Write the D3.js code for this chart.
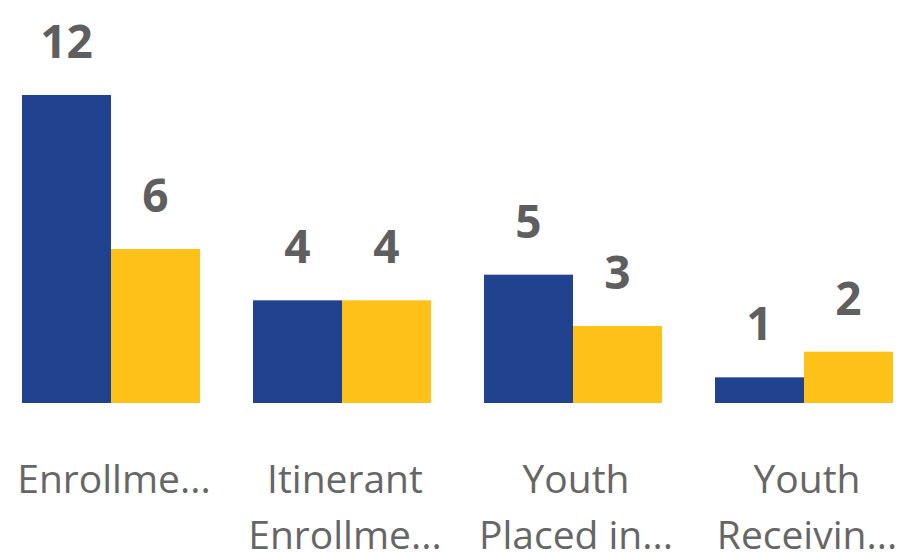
<!DOCTYPE html>
<html>
<head>
<meta charset="utf-8">
<script src="https://cdn.jsdelivr.net/npm/d3@7"></script>
<style>
  body { margin: 0; background: #fff; }
  svg { display: block; }
</style>
</head>
<body>
<div id="chart"></div>
<script>
'use strict';

// categorias (rótulos já truncados como no original)
var categories = ['Enrollment', 'Itinerant Enrollment', 'Youth Placed in', 'Youth Receiving'];
var categoryLines = [['Enrollme...'], ['Itinerant', 'Enrollme...'], ['Youth', 'Placed in...'], ['Youth', 'Receivin...']];

// séries
var seriesNames = ['Series A', 'Series B'];
var seriesA = [12, 4, 5, 1];
var seriesB = [6, 4, 3, 2];

var chart = {};
chart.w = 901;
chart.h = 552;
chart.baseline = 403;
chart.top = 95;
chart.colors = ['#21428f', '#fec118'];

var data = categories.map(function(c, i) {
    return {cat: c, values: [seriesA[i], seriesB[i]]};
});

var svg = d3.select('#chart').append('svg')
    .attr('width', chart.w)
    .attr('height', chart.h);

var x0 = d3.scaleBand()
    .domain(categories)
    .range([22, 893])
    .paddingInner(53 / 231)
    .paddingOuter(0);

var x1 = d3.scaleBand()
    .domain(seriesNames)
    .range([0, x0.bandwidth()])
    .padding(0);

var y = d3.scaleLinear()
    .domain([0, d3.max(seriesA.concat(seriesB))])
    .range([chart.baseline, chart.top]);

var groups = svg.selectAll('g.grp')
    .data(data)
    .enter()
    .append('g')
    .attr('class', 'grp')
    .attr('transform', function(d) { return 'translate(' + x0(d.cat) + ',0)'; });

groups.selectAll('rect')
    .data(function(d) { return d.values.map(function(v, j) { return {s: seriesNames[j], v: v, j: j}; }); })
    .enter()
    .append('rect')
    .attr('x', function(d) { return x1(d.s); })
    .attr('y', function(d) { return y(d.v); })
    .attr('width', x1.bandwidth())
    .attr('height', function(d) { return y(0) - y(d.v); })
    .attr('fill', function(d) { return chart.colors[d.j]; });

// rótulos de valor
groups.selectAll('text.val')
    .data(function(d) { return d.values.map(function(v, j) { return {s: seriesNames[j], v: v}; }); })
    .enter()
    .append('text')
    .attr('class', 'val')
    .attr('x', function(d) { return x1(d.s) + x1.bandwidth() / 2; })
    .attr('y', function(d) { return y(d.v) - 37; })
    .attr('text-anchor', 'middle')
    .style('font-family', '"Open Sans", "Noto Sans", sans-serif')
    .style('font-weight', 'bold')
    .style('font-size', '46px')
    .style('fill', '#5f5f5f')
    .text(function(d) { return d.v; });

// rótulos das categorias
var labels = svg.selectAll('text.cat')
    .data(data)
    .enter()
    .append('text')
    .attr('class', 'cat')
    .attr('x', function(d) { return x0(d.cat) + x0.bandwidth() / 2 + 3; })
    .attr('y', 493)
    .attr('text-anchor', 'middle')
    .style('font-family', '"Open Sans", "Noto Sans", sans-serif')
    .style('font-size', '39px')
    .style('fill', '#666666');

labels.selectAll('tspan')
    .data(function(d, i) { return categoryLines[i]; })
    .enter()
    .append('tspan')
    .attr('x', function() { return d3.select(this.parentNode).attr('x'); })
    .attr('dy', function(d, i) { return i === 0 ? 0 : 56; })
    .text(function(d) { return d; });
</script>
</body>
</html>
